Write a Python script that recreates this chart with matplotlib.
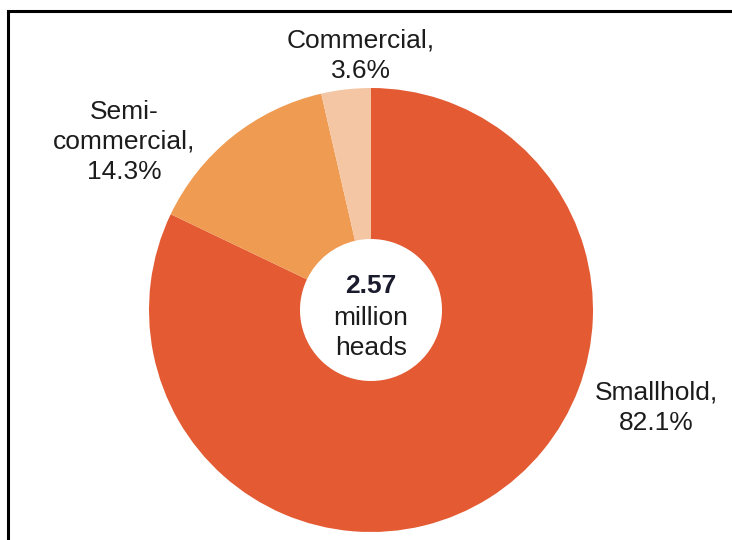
import matplotlib.pyplot as plt

# share of cattle heads by farm type
categories = ["Smallhold", "Semi-\ncommercial", "Commercial"]
shares = [82.1, 14.3, 3.6]
colors = ["#E35A33", "#EF9B52", "#F5C6A4"]
total_heads = "2.57"
center_lines = ["million", "heads"]

plt.rcParams['font.family'] = ['Liberation Sans', 'DejaVu Sans']

W, H = 732, 540
fig = plt.figure(figsize=(W / 100, H / 100), dpi=100)
ax = fig.add_axes([0, 0, 1, 1])

cx, cy = 371, H - 310
r_out, r_in = 222, 71
ax.pie(shares, colors=colors, startangle=90, counterclock=False,
       center=(cx, cy), radius=r_out,
       wedgeprops=dict(width=r_out - r_in, linewidth=0))

# outside labels (pixel positions)
label_pos = [(656, 408), (124, 142), (361, 56)]
for name, val, (lx, ly) in zip(categories, shares, label_pos):
    ax.text(lx, H - ly, f"{name},\n{val}%", ha="center", va="center",
            fontsize=19, color="#1c1c1c", linespacing=1.32)

# centre text, one line at a time on its baseline
ax.text(cx, H - 293, total_heads, ha="center", va="baseline",
        fontsize=19, fontweight="bold", color="#1b1b2e")
for line, base in zip(center_lines, [325, 355]):
    ax.text(cx, H - base, line, ha="center", va="baseline",
            fontsize=19, color="#1c1c1c")

# frame of the original box (bottom and right edges are cropped off)
ax.plot([8, 8, W], [0, H - 11, H - 11], color="black", lw=2.2,
        solid_joinstyle="miter")

ax.set_xlim(0, W)
ax.set_ylim(0, H)
ax.set_aspect("auto")
ax.axis("off")

fig.savefig("out.png", dpi=100)
